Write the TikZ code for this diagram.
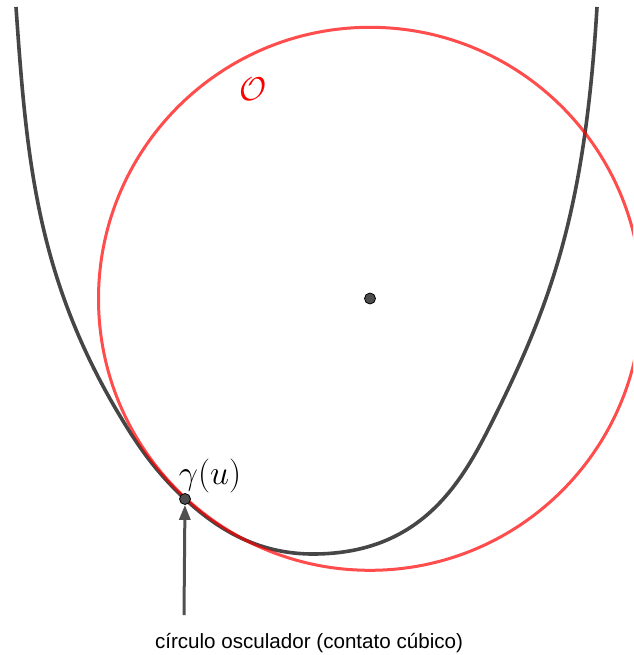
\RequirePackage{fix-cm}
\documentclass[tikz,border=0pt]{standalone}
\usepackage{fontspec}
\newfontfamily\labelfont{Liberation Sans}
\usetikzlibrary{arrows.meta}
\definecolor{curvegray}{RGB}{70,70,70}
\definecolor{arrowgray}{RGB}{80,80,80}
\definecolor{dotgray}{RGB}{77,77,77}
\tikzset{
  curveline/.style={draw=curvegray,line width=3.6pt},
  oscline/.style={draw=red,draw opacity=0.7,line width=3pt},
  ptdot/.style={circle,fill=dotgray,draw=black,line width=0.8pt,minimum size=11pt,inner sep=0pt},
  arrowline/.style={draw=arrowgray,line width=3pt,-{Triangle[width=11pt,length=15pt]}},
}
\begin{document}
\begin{tikzpicture}[x=1pt,y=-1pt]
\useasboundingbox (0,0) rectangle (633,655);
\begin{scope}
\clip (0,0) rectangle (633,655);
\draw[curveline] (16,7)
  .. controls (26.5,157) and (36,276) .. (120,416)
  .. controls (136.8,444) and (154.8,471) .. (185,499)
  .. controls (222.8,534) and (263,554) .. (313,554)
  .. controls (423,554) and (463,480) .. (493,420)
  .. controls (553,300) and (585,207) .. (597,7);
\draw[oscline] (370,298.8) circle (271.5pt);
\end{scope}
\node[ptdot] (ctr) at (370,298.5) {};
\node[ptdot] (g) at (185,499) {};
\coordinate (tail) at (184,615);
\draw[arrowline] (tail) -- (g);
\node[text=red,font=\fontsize{33}{38}\selectfont,inner sep=0pt] (O) at (253,89) {$\mathcal{O}$};
\node[anchor=base,font=\fontsize{34}{40}\selectfont,inner sep=0pt] (gl) at (210,484.5) {$\gamma(u)$};
\node[anchor=base,font=\labelfont\fontsize{20.6}{24}\selectfont,inner sep=0pt] (cap) at (309,648) {círculo osculador (contato cúbico)};
\end{tikzpicture}
\end{document}
